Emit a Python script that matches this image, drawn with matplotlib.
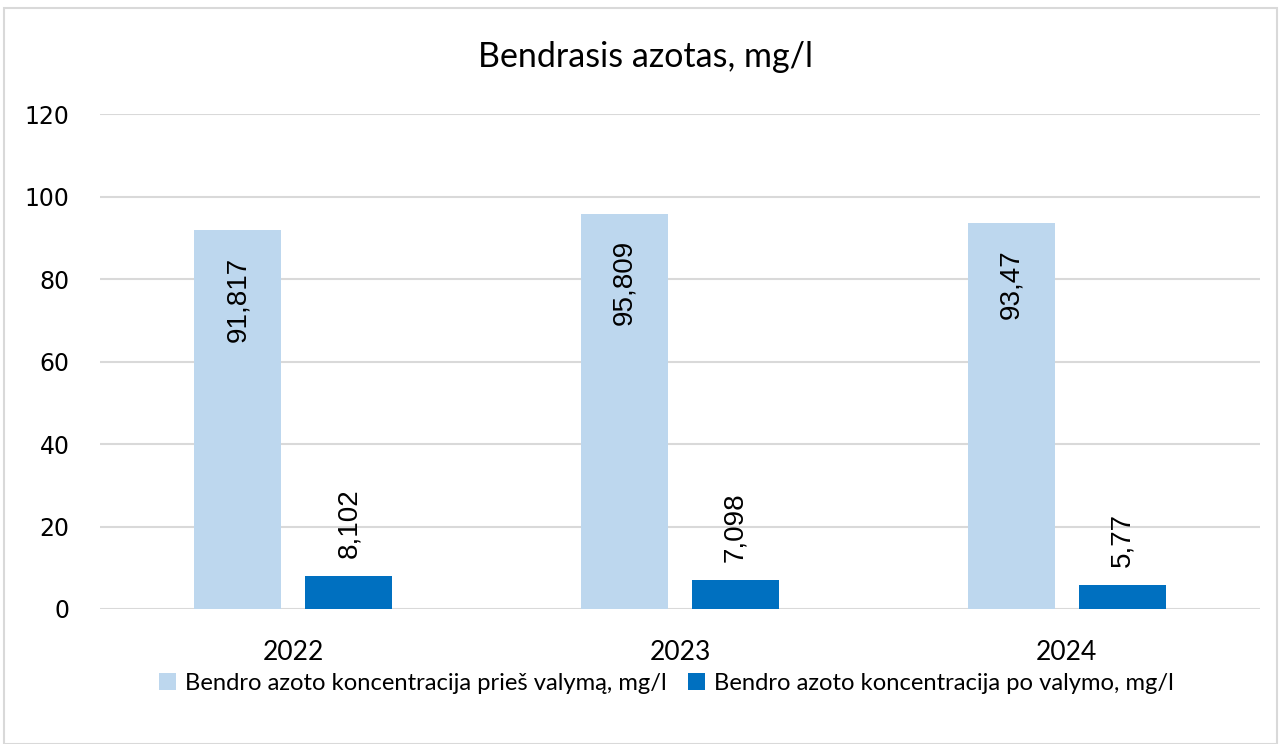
import matplotlib
matplotlib.use("Agg")
import matplotlib.pyplot as plt
import numpy as np
from matplotlib.patches import Rectangle, Patch

years = ["2022", "2023", "2024"]
before = [91.817, 95.809, 93.47]
after = [8.102, 7.098, 5.77]
before_labels = ["91,817", "95,809", "93,47"]
after_labels = ["8,102", "7,098", "5,77"]
series_names = ["Bendro azoto koncentracija prieš valymą, mg/l",
                "Bendro azoto koncentracija po valymo, mg/l"]
title = "Bendrasis azotas, mg/l"
yticks = [0, 20, 40, 60, 80, 100, 120]

W, H = 1281, 744
fig = plt.figure(figsize=(W / 100, H / 100), dpi=100)
fig.patch.set_facecolor("white")

# outer border
fig.patches.append(Rectangle((4 / W, 0), (1277 - 4) / W, 1 - 8 / H,
                             transform=fig.transFigure, fill=False,
                             edgecolor="#D9D9D9", linewidth=1.5))

ax = fig.add_axes([100 / W, 1 - 609 / H, (1260 - 100) / W, (609 - 114) / H])
x = np.arange(len(years))
bw = 0.225
off = 0.1435
c_light = "#BDD7EE"
c_dark = "#0070C0"
b1 = ax.bar(x - off, before, bw, color=c_light, zorder=3)
b2 = ax.bar(x + off, after, bw, color=c_dark, zorder=3)

ax.set_xlim(-0.5, 2.5)
ax.set_ylim(0, 120)
ax.set_yticks(yticks)
ax.set_xticks(x)
ax.set_xticklabels(years, fontfamily="Lato", fontsize=19)
for t in ax.get_yticklabels():
    t.set_fontfamily("DejaVu Sans")
    t.set_fontsize(17)
ax.tick_params(axis="both", length=0, colors="#000000")
ax.tick_params(axis="y", pad=22)
ax.tick_params(axis="x", pad=22)
for s in ax.spines.values():
    s.set_visible(False)
ax.yaxis.grid(True, color="#D9D9D9", linewidth=1.5, zorder=0)
ax.set_axisbelow(True)

for xi, v, lab in zip(x, before, before_labels):
    ax.annotate(lab, (xi - off, v), xytext=(0, -19), textcoords="offset points",
                rotation=90, ha="center", va="top", fontsize=20,
                fontfamily="Liberation Sans", zorder=4)
for xi, v, lab in zip(x, after, after_labels):
    ax.annotate(lab, (xi + off, v), xytext=(0, 13), textcoords="offset points",
                rotation=90, ha="center", va="bottom", fontsize=20,
                fontfamily="Liberation Sans", zorder=4)

fig.text(646 / W, 1 - 57 / H, title, ha="center", va="center",
         fontsize=24.5, fontfamily="Lato")

handles = [Patch(facecolor=c_light), Patch(facecolor=c_dark)]
fig.legend(handles, series_names, loc="center", bbox_to_anchor=(666 / W, 1 - 683 / H),
           ncol=2, frameon=False, prop={"family": "Lato", "size": 17.1},
           handlelength=0.75, handleheight=0.75, handletextpad=0.35, columnspacing=0.9)

fig.savefig("out.png", dpi=100)
